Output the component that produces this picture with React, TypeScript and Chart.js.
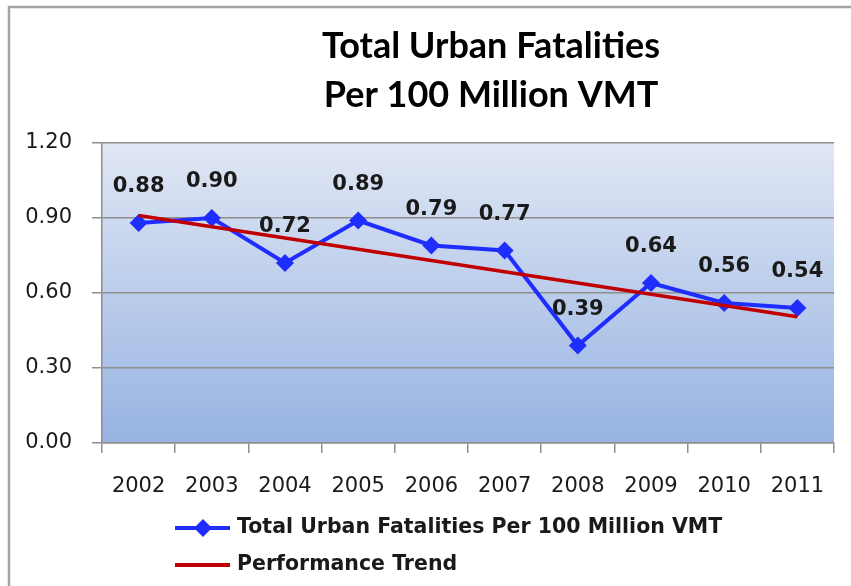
import React, { useEffect, useRef } from 'react';
import { Chart, registerables } from 'chart.js';

Chart.register(...registerables);

const years = ['2002', '2003', '2004', '2005', '2006', '2007', '2008', '2009', '2010', '2011'];
const fatalityRates = [0.88, 0.9, 0.72, 0.89, 0.79, 0.77, 0.39, 0.64, 0.56, 0.54];
const trendValues: (number | null)[] = [0.91, null, null, null, null, null, null, null, null, 0.505];
const titleLines = ['Total Urban Fatalities', 'Per 100 Million VMT'];
const seriesNames = ['Total Urban Fatalities Per 100 Million VMT', 'Performance Trend'];
const yMin = 0;
const yMax = 1.2;
const yStep = 0.3;

const BLUE = '#1f2dff';
const RED = '#c00000';
const GRID = '#8e8e8e';
const TEXT = '#1a1a1a';

const framePlugin = {
  id: 'frameAndBg',
  beforeDraw(chart: any) {
    const { ctx, chartArea, width, height } = chart;
    ctx.save();
    ctx.fillStyle = '#ffffff';
    ctx.fillRect(0, 0, width, height);
    ctx.strokeStyle = '#a3a3a3';
    ctx.lineWidth = 2.5;
    ctx.beginPath();
    ctx.moveTo(9, height);
    ctx.lineTo(9, 7);
    ctx.lineTo(width, 7);
    ctx.stroke();
    const g = ctx.createLinearGradient(0, chartArea.top, 0, chartArea.bottom);
    g.addColorStop(0, '#e0e7f4');
    g.addColorStop(1, '#97b3e2');
    ctx.fillStyle = g;
    ctx.fillRect(chartArea.left, chartArea.top, chartArea.right - chartArea.left, chartArea.bottom - chartArea.top);
    ctx.restore();
  },
};

const titlePlugin = {
  id: 'customTitle',
  afterDraw(chart: any) {
    const { ctx } = chart;
    ctx.save();
    ctx.fillStyle = '#000';
    ctx.font = 'bold 36px Lato';
    ctx.textAlign = 'center';
    ctx.textBaseline = 'middle';
    ctx.fillText(titleLines[0], 491, 46);
    ctx.fillText(titleLines[1], 491, 95);
    ctx.restore();
  },
};

const labelPlugin = {
  id: 'dataLabels',
  afterDatasetsDraw(chart: any) {
    const { ctx } = chart;
    const meta = chart.getDatasetMeta(0);
    ctx.save();
    ctx.fillStyle = TEXT;
    ctx.font = 'bold 21px "DejaVu Sans"';
    ctx.textAlign = 'center';
    ctx.textBaseline = 'middle';
    meta.data.forEach((pt: any, i: number) => {
      ctx.fillText(fatalityRates[i].toFixed(2), pt.x, pt.y - 36);
    });
    ctx.restore();
  },
};

const legendPlugin = {
  id: 'customLegend',
  afterDraw(chart: any) {
    const { ctx } = chart;
    const rows = [
      { y: 528, color: BLUE, marker: true, text: chart.data.datasets[0].label },
      { y: 565, color: RED, marker: false, text: chart.data.datasets[1].label },
    ];
    ctx.save();
    rows.forEach((r) => {
      ctx.strokeStyle = r.color;
      ctx.lineWidth = 4;
      ctx.beginPath();
      ctx.moveTo(175, r.y);
      ctx.lineTo(230, r.y);
      ctx.stroke();
      if (r.marker) {
        ctx.fillStyle = r.color;
        ctx.beginPath();
        ctx.moveTo(203, r.y - 9);
        ctx.lineTo(212, r.y);
        ctx.lineTo(203, r.y + 9);
        ctx.lineTo(194, r.y);
        ctx.closePath();
        ctx.fill();
      }
      ctx.fillStyle = TEXT;
      ctx.font = 'bold 20.5px "DejaVu Sans"';
      ctx.textAlign = 'left';
      ctx.textBaseline = 'middle';
      ctx.fillText(r.text, 237, r.y);
    });
    ctx.restore();
  },
};

export default function App() {
  const ref = useRef<HTMLCanvasElement | null>(null);

  useEffect(() => {
    if (!ref.current) return;
    const chart = new Chart(ref.current, {
      type: 'line',
      data: {
        labels: years,
        datasets: [
          {
            label: seriesNames[0],
            data: fatalityRates,
            borderColor: BLUE,
            backgroundColor: BLUE,
            borderWidth: 4,
            pointStyle: 'rectRot',
            pointRadius: 9,
            pointBorderWidth: 0,
            pointBackgroundColor: BLUE,
            tension: 0,
            order: 1,
          },
          {
            label: seriesNames[1],
            data: trendValues,
            borderColor: RED,
            backgroundColor: RED,
            borderWidth: 3.5,
            pointRadius: 0,
            spanGaps: true,
            tension: 0,
            order: 0,
          },
        ],
      },
      options: {
        responsive: false,
        animation: false,
        layout: { padding: { top: 143, right: 17, bottom: 83, left: 0 } },
        plugins: {
          legend: { display: false },
          title: { display: false },
          tooltip: { enabled: false },
        },
        scales: {
          x: {
            type: 'category',
            offset: true,
            grid: {
              offset: true,
              drawOnChartArea: false,
              drawTicks: true,
              tickLength: 10,
              color: GRID,
              lineWidth: 1.5,
            },
            border: { display: true, color: GRID, width: 1.5 },
            ticks: {
              color: TEXT,
              font: { family: 'DejaVu Sans', size: 21 },
              padding: 21,
              maxRotation: 0,
              autoSkip: false,
            },
            afterFit: (s: any) => {
              s.height = 60;
            },
          },
          y: {
            min: yMin,
            max: yMax,
            ticks: {
              stepSize: yStep,
              color: TEXT,
              font: { family: 'DejaVu Sans', size: 21 },
              padding: 20,
              callback: (v: any) => Number(v).toFixed(2),
            },
            grid: {
              color: GRID,
              lineWidth: 1.5,
              tickLength: 10,
              drawTicks: true,
            },
            border: { display: true, color: GRID, width: 1.5 },
            afterFit: (s: any) => {
              s.width = 102;
            },
          },
        },
      },
      plugins: [framePlugin, titlePlugin, labelPlugin, legendPlugin],
    });
    return () => chart.destroy();
  }, []);

  return (
    <div style={{ position: 'fixed', left: 0, top: 0, width: 851, height: 586, background: '#fff' }}>
      <canvas ref={ref} width={851} height={586} style={{ display: 'block' }} />
    </div>
  );
}
